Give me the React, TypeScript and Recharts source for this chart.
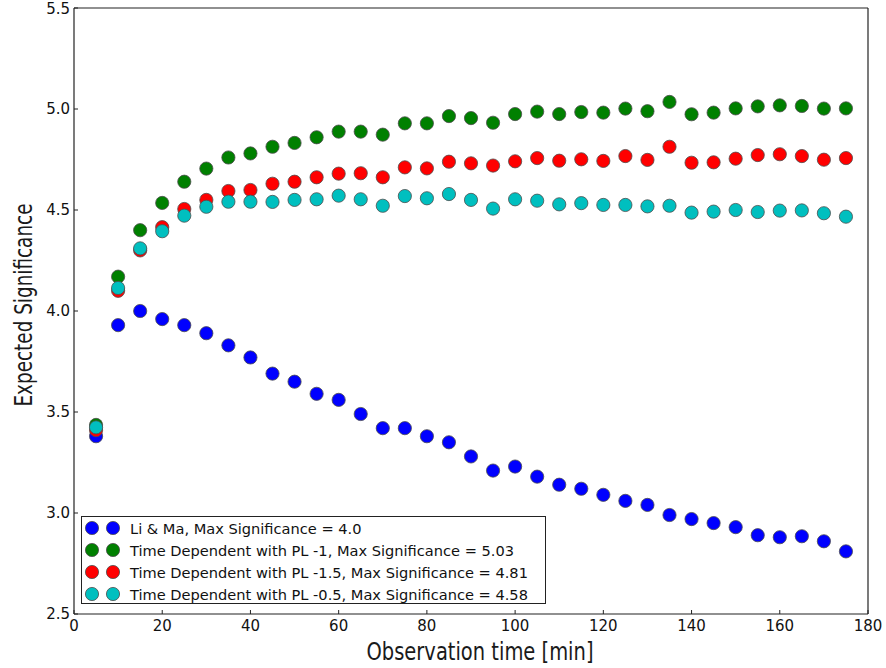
import { Legend, Scatter, ScatterChart, XAxis, YAxis } from 'recharts';

// observation times [min]
const TIMES = [
  5, 10, 15, 20, 25, 30, 35, 40, 45, 50, 55, 60, 65, 70, 75, 80, 85, 90, 95,
  100, 105, 110, 115, 120, 125, 130, 135, 140, 145, 150, 155, 160, 165, 170, 175,
];

const LI_MA = [
  3.38, 3.93, 4.0, 3.96, 3.93, 3.89, 3.83, 3.77, 3.69, 3.65, 3.59, 3.56, 3.49,
  3.42, 3.42, 3.38, 3.35, 3.28, 3.21, 3.23, 3.18, 3.14, 3.12, 3.09, 3.06, 3.04,
  2.99, 2.97, 2.95, 2.93, 2.89, 2.88, 2.885, 2.86, 2.81,
];

const PL_1 = [
  3.436, 4.17, 4.4, 4.535, 4.64, 4.705, 4.76, 4.78, 4.813, 4.832, 4.86, 4.888,
  4.888, 4.873, 4.929, 4.929, 4.965, 4.955, 4.932, 4.975, 4.987, 4.975, 4.985,
  4.982, 5.002, 4.989, 5.035, 4.974, 4.982, 5.003, 5.013, 5.018, 5.015, 5.002,
  5.003,
];

const PL_15 = [
  3.41, 4.1, 4.3, 4.415, 4.505, 4.55, 4.594, 4.599, 4.63, 4.64, 4.662, 4.68,
  4.682, 4.662, 4.711, 4.706, 4.739, 4.731, 4.72, 4.741, 4.757, 4.744, 4.751,
  4.743, 4.767, 4.748, 4.813, 4.734, 4.736, 4.754, 4.772, 4.776, 4.767, 4.749,
  4.757,
];

const PL_05 = [
  3.424, 4.114, 4.31, 4.395, 4.472, 4.516, 4.541, 4.541, 4.54, 4.55, 4.553,
  4.571, 4.553, 4.521, 4.569, 4.558, 4.579, 4.55, 4.507, 4.553, 4.546, 4.528,
  4.534, 4.525, 4.525, 4.518, 4.521, 4.487, 4.492, 4.5, 4.49, 4.497, 4.498,
  4.484, 4.467,
];

const X_TICKS = [0, 20, 40, 60, 80, 100, 120, 140, 160, 180];
const Y_TICKS = [2.5, 3.0, 3.5, 4.0, 4.5, 5.0, 5.5];

const SERIES = [
  { name: 'Li & Ma, Max Significance = 4.0', color: '#0000ff', values: LI_MA },
  { name: 'Time Dependent with PL -1, Max Significance = 5.03', color: '#008000', values: PL_1 },
  { name: 'Time Dependent with PL -1.5, Max Significance = 4.81', color: '#ff0000', values: PL_15 },
  { name: 'Time Dependent with PL -0.5, Max Significance = 4.58', color: '#00bfbf', values: PL_05 },
];

const FONT = "'DejaVu Sans', sans-serif";
const TITLE_FONT = "'DejaVu Sans Condensed', 'DejaVu Sans', sans-serif";
const FRAME = '#222';

function Dot(props: any) {
  const { cx, cy, fill } = props;
  if (cx == null || cy == null) return null;
  return <circle cx={cx} cy={cy} r={6.6} fill={fill} stroke="#4d4d4d" strokeWidth={0.8} />;
}

// legend keeps the plotting order (recharts sorts its payload by name)
function renderLegend() {
  return (
    <div
      style={{
        border: `1.3px solid ${FRAME}`,
        background: '#fff',
        width: 465,
        height: 88,
        boxSizing: 'border-box',
      }}
    >
      {SERIES.map((s) => (
        <div key={s.name} style={{ display: 'flex', alignItems: 'center', height: 22 }}>
          <svg width={48} height={22} style={{ flexShrink: 0 }}>
            <circle cx={10} cy={11} r={6.6} fill={s.color} stroke="#4d4d4d" strokeWidth={0.8} />
            <circle cx={31} cy={11} r={6.6} fill={s.color} stroke="#4d4d4d" strokeWidth={0.8} />
          </svg>
          <span style={{ fontFamily: FONT, fontSize: 14.6, color: '#111', whiteSpace: 'nowrap' }}>
            {s.name}
          </span>
        </div>
      ))}
    </div>
  );
}

const tickStyle = { fontFamily: FONT, fontSize: 15, fill: '#111' };

export default function App() {
  return (
    <div style={{ position: 'absolute', left: 0, top: 0, width: 886, height: 668, background: '#fff' }}>
      <ScatterChart width={886} height={668} margin={{ top: 7, right: 17, bottom: 0, left: 0 }}>
        <XAxis
          dataKey="x"
          type="number"
          domain={[0, 180]}
          ticks={X_TICKS}
          height={54}
          tickSize={-4}
          tickMargin={10}
          tick={tickStyle}
          axisLine={{ stroke: FRAME, strokeWidth: 1.2 }}
          tickLine={{ stroke: FRAME }}
          allowDataOverflow
          label={(p: any) => {
            const vb = p.viewBox;
            return (
              <text
                x={vb.x + 406}
                y={vb.y + 46}
                textAnchor="middle"
                textLength={227}
                lengthAdjust="spacingAndGlyphs"
                style={{ fontFamily: TITLE_FONT, fontSize: 25, fill: '#1a1a1a' }}
              >
                Observation time [min]
              </text>
            );
          }}
        />
        <XAxis
          xAxisId="top"
          orientation="top"
          type="number"
          domain={[0, 180]}
          ticks={X_TICKS}
          height={1}
          tickSize={-4}
          tick={false}
          axisLine={{ stroke: FRAME, strokeWidth: 1.2 }}
          tickLine={{ stroke: FRAME }}
          allowDataOverflow
        />
        <YAxis
          dataKey="y"
          type="number"
          domain={[2.5, 5.5]}
          ticks={Y_TICKS}
          width={74}
          tickSize={-4}
          tickMargin={8}
          tick={tickStyle}
          tickFormatter={(v: number) => v.toFixed(1)}
          axisLine={{ stroke: FRAME, strokeWidth: 1.2 }}
          tickLine={{ stroke: FRAME }}
          allowDataOverflow
          label={(p: any) => {
            const vb = p.viewBox;
            const cx = vb.x + 32;
            const cy = vb.y + 297;
            return (
              <text
                x={cx}
                y={cy}
                textAnchor="middle"
                transform={`rotate(-90, ${cx}, ${cy})`}
                textLength={203}
                lengthAdjust="spacingAndGlyphs"
                style={{ fontFamily: TITLE_FONT, fontSize: 25, fill: '#1a1a1a' }}
              >
                Expected Significance
              </text>
            );
          }}
        />
        <YAxis
          yAxisId="right"
          orientation="right"
          type="number"
          domain={[2.5, 5.5]}
          ticks={Y_TICKS}
          width={1}
          tickSize={-4}
          tick={false}
          axisLine={{ stroke: FRAME, strokeWidth: 1.2 }}
          tickLine={{ stroke: FRAME }}
          allowDataOverflow
        />
        {SERIES.map((s) => (
          <Scatter
            key={s.name}
            name={s.name}
            data={TIMES.map((t, i) => ({ x: t, y: s.values[i] }))}
            fill={s.color}
            shape={(p: any) => <Dot {...p} />}
            isAnimationActive={false}
          />
        ))}
        <Legend
          layout="vertical"
          align="center"
          verticalAlign="middle"
          wrapperStyle={{ left: 81, top: 516, width: 465, height: 88 }}
          content={renderLegend}
        />
      </ScatterChart>
    </div>
  );
}
